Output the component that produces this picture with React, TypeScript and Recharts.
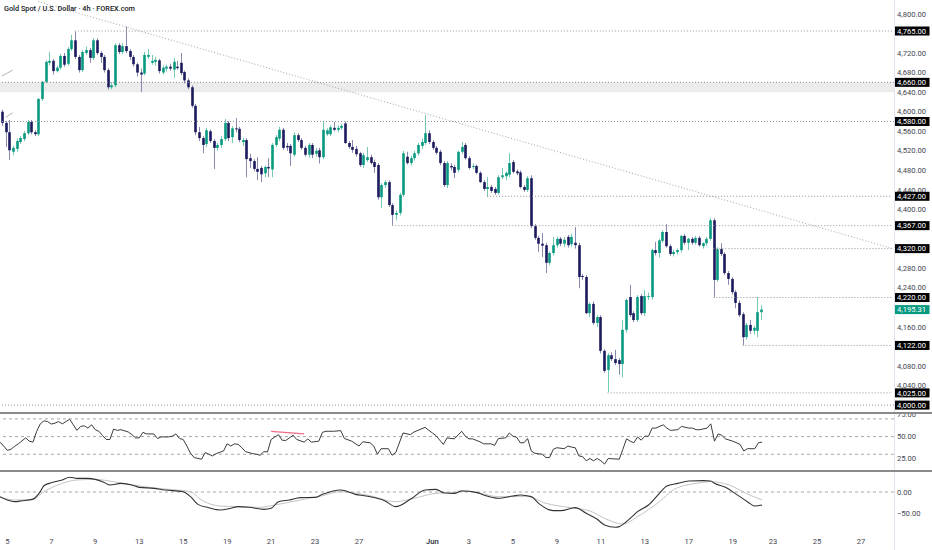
import React from 'react';
import { ComposedChart, Bar, Line, XAxis, YAxis, ReferenceLine, ReferenceArea } from 'recharts';

// ---------- data ----------
const FIRST_BAR = -2;
const LAST_SLOT = 242;

const openP = [
  4600,4577,4558,4518,4524,4538,4544,4556,4579,4558,
  4554,4626,4661,4700,4704,4683,4690,4714,4698,4728,
  4746,4712,4685,4720,4726,4710,4746,4720,4712,4685,
  4650,4654,4736,4722,4734,4724,4712,4697,4680,4678,
  4712,4700,4702,4705,4680,4688,4692,4686,4692,4700,
  4681,4664,4650,4612,4558,4546,4534,4560,4540,4526,
  4532,4544,4577,4548,4566,4565,4538,4542,4505,4499,
  4483,4485,4474,4487,4482,4532,4545,4563,4530,4530,
  4512,4552,4542,4526,4512,4532,4514,4521,4507,4554,
  4554,4567,4563,4567,4576,4536,4528,4524,4515,4491,
  4501,4507,4497,4491,4425,4450,4456,4409,4389,4393,
  4430,4508,4495,4505,4515,4530,4536,4556,4538,4526,
  4518,4495,4450,4489,4487,4481,4518,4532,4505,4487,
  4489,4475,4456,4442,4446,4442,4434,4466,4468,4471,
  4497,4478,4476,4446,4440,4464,4366,4342,4330,4327,
  4291,4311,4327,4340,4330,4344,4329,4332,4327,4264,
  4262,4188,4207,4168,4180,4111,4072,4102,4094,4092,
  4084,4154,4221,4188,4174,4223,4188,4221,4221,4317,
  4311,4336,4354,4325,4309,4313,4317,4346,4332,4340,
  4332,4342,4325,4331,4340,4378,4256,4319,4309,4270,
  4258,4231,4209,4186,4139,4164,4152,4152,4190,
];
const highP = [
  4604,4581,4583,4530,4545,4550,4560,4583,4583,4562,
  4628,4663,4705,4722,4708,4694,4718,4720,4732,4757,
  4764,4716,4726,4733,4730,4750,4750,4724,4716,4689,
  4660,4740,4740,4740,4774,4728,4716,4700,4688,4722,
  4728,4716,4712,4708,4694,4696,4698,4710,4704,4720,
  4684,4668,4654,4616,4569,4550,4567,4564,4544,4536,
  4550,4585,4581,4570,4587,4569,4546,4546,4514,4503,
  4507,4489,4490,4505,4536,4552,4569,4567,4536,4534,
  4558,4556,4546,4530,4536,4536,4526,4526,4579,4566,
  4572,4579,4572,4575,4580,4540,4542,4530,4518,4516,
  4528,4512,4502,4495,4454,4460,4460,4413,4398,4434,
  4520,4518,4510,4520,4536,4545,4593,4562,4542,4530,
  4522,4499,4499,4495,4491,4520,4538,4536,4509,4494,
  4492,4478,4460,4466,4450,4446,4470,4485,4478,4515,
  4501,4482,4480,4450,4468,4470,4370,4346,4352,4332,
  4314,4344,4344,4344,4344,4348,4350,4364,4332,4268,
  4266,4210,4212,4184,4184,4114,4106,4108,4113,4096,
  4174,4218,4246,4192,4225,4227,4235,4230,4320,4334,
  4340,4358,4370,4329,4318,4320,4348,4350,4342,4344,
  4346,4346,4333,4344,4382,4382,4323,4331,4313,4274,
  4262,4235,4214,4190,4168,4174,4162,4221,4204,
];
const lowP = [
  4571,4528,4501,4511,4518,4534,4540,4552,4554,4550,
  4550,4622,4658,4695,4676,4680,4686,4692,4694,4724,
  4708,4680,4681,4716,4700,4706,4716,4700,4680,4645,
  4646,4650,4718,4718,4720,4706,4692,4672,4640,4674,
  4708,4696,4694,4678,4676,4682,4684,4669,4686,4675,
  4658,4646,4608,4552,4540,4515,4528,4536,4483,4520,
  4526,4540,4540,4536,4558,4538,4530,4466,4485,4478,
  4460,4456,4466,4466,4466,4528,4540,4522,4520,4489,
  4508,4538,4522,4508,4506,4505,4508,4494,4503,4550,
  4550,4560,4558,4563,4534,4524,4516,4508,4487,4485,
  4497,4492,4475,4420,4403,4444,4405,4368,4378,4388,
  4426,4492,4490,4500,4510,4524,4532,4534,4522,4512,
  4491,4446,4444,4480,4464,4476,4514,4502,4482,4482,
  4472,4454,4438,4426,4434,4430,4430,4462,4460,4466,
  4474,4470,4443,4436,4436,4362,4338,4313,4303,4270,
  4286,4306,4322,4325,4324,4322,4324,4320,4239,4256,
  4186,4180,4164,4160,4106,4066,4027,4090,4082,4062,
  4057,4148,4180,4170,4170,4184,4182,4215,4216,4306,
  4302,4332,4322,4305,4304,4308,4312,4328,4317,4328,
  4328,4324,4320,4326,4336,4221,4252,4305,4266,4246,
  4226,4198,4180,4123,4134,4146,4144,4139,4174,
];
const closeP = [
  4577,4558,4521,4526,4540,4546,4556,4579,4558,4554,
  4626,4661,4702,4704,4683,4690,4714,4696,4728,4746,
  4712,4685,4722,4726,4710,4746,4720,4712,4685,4650,
  4654,4736,4722,4734,4724,4712,4697,4680,4676,4716,
  4716,4704,4706,4683,4690,4692,4688,4702,4689,4679,
  4664,4650,4612,4558,4546,4532,4562,4540,4526,4532,
  4544,4577,4546,4566,4565,4542,4542,4503,4499,4483,
  4477,4472,4487,4484,4532,4548,4563,4526,4527,4515,
  4552,4542,4526,4512,4532,4512,4520,4507,4563,4562,
  4568,4563,4567,4571,4536,4528,4522,4513,4491,4511,
  4507,4495,4487,4425,4450,4456,4409,4389,4393,4430,
  4515,4495,4505,4515,4532,4538,4556,4538,4526,4516,
  4495,4450,4495,4486,4475,4518,4528,4505,4485,4489,
  4475,4456,4442,4446,4438,4434,4466,4470,4475,4495,
  4477,4474,4446,4440,4464,4366,4342,4330,4326,4291,
  4311,4327,4340,4330,4338,4327,4344,4327,4262,4262,
  4188,4207,4168,4180,4111,4070,4102,4094,4086,4084,
  4154,4215,4184,4174,4221,4188,4223,4223,4317,4311,
  4337,4354,4325,4309,4313,4317,4346,4332,4340,4332,
  4342,4327,4331,4340,4378,4256,4319,4309,4270,4258,
  4231,4209,4184,4139,4164,4152,4158,4190,4195.31,
];

const rsiBars = [-2,-1,0,1,2,3,5,6,7,8,9,10,11,12,13,14,15,17,18,19,20,21,22,23,24,25,26,27,28,29,30,31,33,34,35,36,37,38,40,41,42,44,45,46,47,48,49,50,51,53,54,55,56,57,59,60,61,62,63,64,65,67,68,69,70,71,72,74,75,76,78,79,81,82,83,85,86,87,89,91,92,94,96,97,99,100,101,102,104,105,106,108,110,111,114,116,117,119,120,122,124,125,126,127,129,130,132,133,134,136,137,138,139,140,141,142,143,144,146,147,148,149,150,152,153,154,155,156,157,158,159,160,161,162,163,164,167,168,169,170,171,172,173,174,175,176,177,179,180,181,183,184,186,187,188,189,191,192,193,194,195,196,198,200,201,202,204,205,206];
const rsiValues = [43.7,39.3,34.4,35.6,39,41.8,48.5,44.8,43.7,55.9,64.4,67.8,67,64.1,65.2,67,64.4,69.6,63.3,57,61.5,62.2,59.6,63.3,57.8,56,51.1,46.7,46.7,58.5,57,57.8,55.2,52.2,48.5,48.5,54.8,53,53,47.8,49.6,49.6,50.4,53,47.8,46.7,39.3,31.1,26.3,24.4,31.9,30,28.1,30.7,33.7,41.8,39.3,41.8,41.1,37.4,33,30.7,30,28.9,33,32.6,46.7,52.2,45.9,45.6,51.5,46.7,43.7,47.4,43.7,44.8,54.8,56,56,56.7,47.8,44.8,39.3,44.1,43,39.3,30,36.3,36.3,28.9,31.9,54.1,52.2,55.2,60.4,54.1,51.1,41.1,48.5,47.4,56,50.4,47.4,47.4,44.1,41.8,41.8,40,47.8,48.5,54.1,50.4,49.3,43,43,47.8,33.7,31.1,30,26.3,26.3,35.6,37.4,36.3,39.3,38.1,37.4,28.1,27.4,22.6,25.2,22.6,25.2,22.6,18.9,25.2,24.4,35.6,47.4,44.8,43,49.6,45.9,50.4,50.4,59.6,59.6,63.3,59.6,57,57.8,61.5,59.6,59.6,57.8,57.8,59.6,64.4,44.8,53,51.5,47.4,44.8,41.1,33.7,36.3,36.3,43,43.7];

const macdBars = [-2,0,2,4,7,9,10,12,15,17,19,22,24,26,28,31,34,36,40,43,48,50,52,55,58,61,63,66,70,72,74,77,80,84,86,91,95,98,103,106,110,114,117,119,122,124,128,130,134,138,140,143,145,149,151,155,158,161,163,166,167,170,172,175,178,180,183,186,190,192,193,196,199,202,204,206];
const macdValues = [-11,-19,-23,-21,-17,1,15,22,28.6,35,32.5,32.5,30,24.6,16.7,20.6,16.7,11.1,8.7,4.8,0.8,-11,-29.4,-37.3,-42.9,-38.9,-34.9,-36.5,-41.3,-38.9,-23,-19,-13.5,-12.7,-5.6,4.8,-5.6,-9.5,-20.6,-34.9,-17.5,4.8,6.3,-1.6,-3.2,2.4,-0.8,-7.1,-15,-9.5,-7.1,-11,-27,-44.4,-44.4,-37.3,-50.8,-65,-78.6,-84.1,-82.5,-62.7,-46.8,-31,-3.2,14.3,20.6,26.2,27,26.2,20.6,11.1,-5.6,-23,-33.3,-31];
const signalBars = [-2,2,7,10,15,19,24,29,36,43,50,53,58,63,69,73,80,85,91,98,106,111,117,122,124,129,134,142,147,153,159,163,168,172,178,182,188,192,197,202,206];
const signalValues = [-12.7,-19,-17.5,0.8,20.6,28.6,30,24.6,14.3,7.1,0.8,-19,-33.3,-34.9,-36.5,-31,-19,-11,0.8,-7.1,-23,-15,-3.2,-1.6,3.2,-3.2,-11,-11,-27,-36.5,-45.2,-62.7,-76.2,-58.7,-23,6.3,20.6,24.6,16.7,-4.8,-19];

const dateTickBars = [0,12,24,36,48,60,72,84,96,116,126,138,150,162,174,186,198,209,221,233];
const dateTickLabels = ['5','7','9','13','15','19','21','23','27','Jun','3','5','9','11','13','17','19','23','25','27'];

const priceTicks = [4800,4720,4680,4640,4600,4560,4520,4480,4440,4400,4280,4240,4160,4080,4040];
const levelPrices = [4765,4660,4580,4427,4367,4320,4220,4122,4025,4000];
const levelStartBar = [18,null,null,131,105,193,193,201,164,null];
const lastPrice = 4195.31;
const zoneLow = 4640;
const zoneHigh = 4660;
const trendStart = { bar: 8, price: 4825 };
const trendEnd = { bar: 242, price: 4320.4 };
const smallLines = [
  [{ bar: -2, price: 4673 }, { bar: 1, price: 4685 }],
  [{ bar: -1, price: 4588 }, { bar: 1, price: 4598 }],
];
const rsiTicks = [75, 50, 25];
const rsiBands = [70, 50, 30];
const rsiDivergence = [{ bar: 72, value: 55.9 }, { bar: 81, value: 53 }];
const macdTicks = [0, -50];

// ---------- styles ----------
const FONT = 'Roboto, "Noto Sans", sans-serif';
const TEXT = '#434651';
const UP = '#089981';
const DOWN = '#1b1b5e';
const UP_WICK = '#74c9b2';
const DOWN_WICK = '#8a89b0';
const LEVEL = '#8f929a';

// ---------- tables ----------
const slots: number[] = [];
for (let i = FIRST_BAR; i <= LAST_SLOT; i++) slots.push(i);

const priceData = slots.map((i) => {
  const k = i - FIRST_BAR;
  if (k < openP.length) return { i, o: openP[k], h: highP[k], l: lowP[k], c: closeP[k] };
  return { i };
});
const rsiData = slots.map((i) => {
  const k = rsiBars.indexOf(i);
  return { i, rsi: k >= 0 ? rsiValues[k] : null };
});
const macdData = slots.map((i) => {
  const a = macdBars.indexOf(i);
  const b = signalBars.indexOf(i);
  return { i, macd: a >= 0 ? macdValues[a] : null, signal: b >= 0 ? signalValues[b] : null };
});

const fmt = (v: number) =>
  v.toLocaleString('en-US', { minimumFractionDigits: 2, maximumFractionDigits: 2 }).replace('-', '\u2212');

const candleRange = (d: any) => (d.h == null ? null : [d.l, d.h]);

function renderCandle(props: any) {
  const { x, y, width, height, payload } = props;
  if (!payload || payload.h == null || !isFinite(y) || !isFinite(height)) return <g />;
  const top = Math.min(y, y + height);
  const bottom = Math.max(y, y + height);
  const { o, h, l, c } = payload;
  const k = h > l ? (bottom - top) / (h - l) : 0;
  const py = (v: number) => top + (h - v) * k;
  const cx = Math.round(x + width / 2) + 0.5;
  const up = c >= o;
  const bTop = py(Math.max(o, c));
  const bH = Math.max(1, py(Math.min(o, c)) - bTop);
  return (
    <g>
      <line x1={cx} x2={cx} y1={top} y2={bottom} stroke={up ? UP_WICK : DOWN_WICK} strokeWidth={1} />
      <rect x={cx - 1.3} y={bTop} width={2.6} height={bH} fill={up ? UP : DOWN} />
    </g>
  );
}

function renderPriceTick(props: any) {
  const { x, y, payload } = props;
  const v = payload.value;
  const isLast = v === lastPrice;
  const isLevel = levelPrices.indexOf(v) >= 0;
  if (isLast || isLevel) {
    return (
      <g>
        <rect x={x} y={y - 4.5} width={35.5} height={9} fill={isLast ? UP : '#000000'} />
        <text x={x + 3} y={y} dy="0.35em" fontSize={7.6} fontFamily={FONT} fill="#ffffff">
          {fmt(v)}
        </text>
      </g>
    );
  }
  return (
    <text x={x + 3} y={y} dy="0.35em" fontSize={7.6} fontFamily={FONT} fill={TEXT}>
      {fmt(v)}
    </text>
  );
}

function renderPlainTick(props: any) {
  const { x, y, payload } = props;
  return (
    <text x={x + 3} y={y} dy="0.35em" fontSize={7.6} fontFamily={FONT} fill={TEXT}>
      {fmt(payload.value)}
    </text>
  );
}

function renderDateTick(props: any) {
  const { x, y, payload } = props;
  const k = dateTickBars.indexOf(payload.value);
  const label = k >= 0 ? dateTickLabels[k] : '';
  return (
    <text x={x} y={y + 13.5} textAnchor="middle" fontSize={7.6} fontFamily={FONT} fill={TEXT} fontWeight={label === 'Jun' ? 700 : 400}>
      {label}
    </text>
  );
}

const priceAxisTicks = [...priceTicks, ...levelPrices, lastPrice];
const M = { top: 0, right: 0, bottom: 0, left: 0 };

export default function App() {
  return (
    <div style={{ position: 'absolute', left: 0, top: 0, width: 932, height: 550, background: '#ffffff', overflow: 'hidden', fontFamily: FONT }}>
      <div style={{ position: 'absolute', left: 0, top: 0 }}>
        <ComposedChart width={932} height={412} data={priceData} margin={M} barCategoryGap={0} barGap={0}>
          <XAxis dataKey="i" type="category" hide />
          <YAxis
            orientation="right"
            width={38}
            type="number"
            domain={[3985.9, 4828.4]}
            allowDataOverflow
            ticks={priceAxisTicks}
            interval={0}
            axisLine={false}
            tickLine={false}
            tickSize={0}
            tickMargin={0}
            tick={renderPriceTick}
          />
          <ReferenceArea y1={zoneLow} y2={zoneHigh} fill="#ececec" fillOpacity={1} stroke="none" />
          {levelPrices.map((p, k) =>
            levelStartBar[k] == null ? (
              <ReferenceLine key={'lv' + k} y={p} stroke={LEVEL} strokeDasharray="1 2" strokeWidth={1} />
            ) : (
              <ReferenceLine
                key={'lv' + k}
                segment={[{ x: levelStartBar[k] as number, y: p }, { x: LAST_SLOT, y: p }]}
                stroke={LEVEL}
                strokeDasharray="1 2"
                strokeWidth={1}
              />
            )
          )}
          <ReferenceLine
            segment={[{ x: trendStart.bar, y: trendStart.price }, { x: trendEnd.bar, y: trendEnd.price }]}
            stroke="#a3a6ad"
            strokeDasharray="1 2"
            strokeWidth={1}
          />
          {smallLines.map((s, k) => (
            <ReferenceLine
              key={'sl' + k}
              segment={[{ x: s[0].bar, y: s[0].price }, { x: s[1].bar, y: s[1].price }]}
              stroke="#b5b7bd"
              strokeWidth={1}
            />
          ))}
          <Bar dataKey={candleRange} shape={renderCandle} isAnimationActive={false} />
        </ComposedChart>
      </div>

      <div style={{ position: 'absolute', left: 0, top: 412 }}>
        <ComposedChart width={932} height={58} data={rsiData} margin={M}>
          <XAxis dataKey="i" type="category" hide />
          <YAxis
            orientation="right"
            width={38}
            type="number"
            domain={[12.2, 77.8]}
            allowDataOverflow
            ticks={rsiTicks}
            interval={0}
            axisLine={false}
            tickLine={false}
            tickSize={0}
            tickMargin={0}
            tick={renderPlainTick}
          />
          {rsiBands.map((b) => (
            <ReferenceLine key={'rb' + b} y={b} stroke="#a8a8a8" strokeDasharray="3 3" strokeWidth={1} />
          ))}
          <ReferenceLine
            segment={[{ x: rsiDivergence[0].bar, y: rsiDivergence[0].value }, { x: rsiDivergence[1].bar, y: rsiDivergence[1].value }]}
            stroke="#f06b8a"
            strokeWidth={1.2}
          />
          <Line dataKey="rsi" type="linear" stroke="#3c3c3c" strokeWidth={1} dot={false} connectNulls isAnimationActive={false} />
        </ComposedChart>
      </div>

      <div style={{ position: 'absolute', left: 0, top: 470 }}>
        <ComposedChart width={932} height={80} data={macdData} margin={M}>
          <XAxis
            dataKey="i"
            type="category"
            height={20}
            ticks={dateTickBars}
            interval={0}
            axisLine={false}
            tickLine={false}
            tickSize={0}
            tickMargin={0}
            tick={renderDateTick}
          />
          <YAxis
            orientation="right"
            width={38}
            type="number"
            domain={[-90.5, 52.4]}
            allowDataOverflow
            ticks={macdTicks}
            interval={0}
            axisLine={false}
            tickLine={false}
            tickSize={0}
            tickMargin={0}
            tick={renderPlainTick}
          />
          <ReferenceLine y={0} stroke="#a8a8a8" strokeDasharray="3 3" strokeWidth={1} />
          <Line dataKey="signal" type="monotone" stroke="#c4c4c4" strokeWidth={1} dot={false} connectNulls isAnimationActive={false} />
          <Line dataKey="macd" type="monotone" stroke="#333333" strokeWidth={1.1} dot={false} connectNulls isAnimationActive={false} />
        </ComposedChart>
      </div>

      <div style={{ position: 'absolute', left: 894, top: 0, width: 1, height: 550, background: '#e0e3eb' }} />
      <div style={{ position: 'absolute', left: 0, top: 411.5, width: 932, height: 2, background: '#8a8a8a' }} />
      <div style={{ position: 'absolute', left: 0, top: 469.5, width: 932, height: 2, background: '#8a8a8a' }} />
      <div style={{ position: 'absolute', left: 4, top: 4, fontSize: 7.3, fontWeight: 500, color: '#131722', whiteSpace: 'nowrap', lineHeight: '9px' }}>
        Gold Spot / U.S. Dollar · 4h · FOREX.com
      </div>
    </div>
  );
}
